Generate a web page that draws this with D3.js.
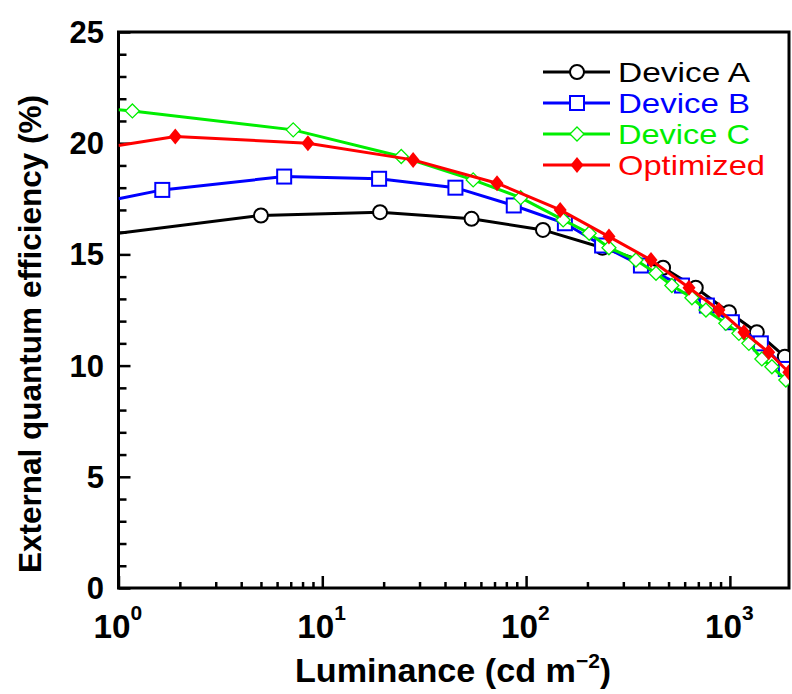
<!DOCTYPE html>
<html>
<head>
<meta charset="utf-8">
<script src="https://cdn.jsdelivr.net/npm/d3@7"></script>
<style>
  html, body { margin: 0; padding: 0; background: #fff; }
  svg { display: block; }
  text { font-family: "Liberation Sans", Arial, Helvetica, sans-serif; }
</style>
</head>
<body>
<svg id="chart" width="792" height="694"></svg>
<script>
// Luminance (cd m^-2) and EQE (%) for each device
const lumA = [1, 5.0, 19.2, 54, 121, 237, 470, 680, 990, 1356, 1860];
const eqeA = [15.95, 16.75, 16.9, 16.6, 16.1, 15.3, 14.4, 13.5, 12.4, 11.5, 10.4];

const lumB = [1, 1.64, 6.5, 19, 45, 87, 155, 236, 366, 582, 771, 1023, 1419, 1882];
const eqeB = [17.5, 17.9, 18.5, 18.4, 18.0, 17.2, 16.4, 15.4, 14.5, 13.6, 12.7, 11.95, 11.0, 9.85];

const lumC = [1, 1.17, 7.2, 24.4, 55, 94, 152, 204, 255, 346, 434, 519, 651, 763, 955, 1107, 1239, 1435, 1607, 1882];
const eqeC = [21.5, 21.45, 20.6, 19.4, 18.35, 17.55, 16.55, 15.95, 15.3, 14.75, 14.15, 13.6, 13.05, 12.5, 11.9, 11.45, 11.0, 10.3, 9.95, 9.35];

const lumO = [1, 1.9, 8.5, 27.9, 72, 147, 255, 410, 630, 883, 1172, 1550, 1945];
const eqeO = [19.9, 20.3, 20.0, 19.25, 18.2, 17.0, 15.8, 14.75, 13.5, 12.5, 11.5, 10.6, 9.7];

const seriesNames = ["Device A", "Device B", "Device C", "Optimized"];
const seriesColors = ["#000000", "#0000ff", "#00ee00", "#ff0000"];
const seriesMarkers = ["circle", "square", "diamondOpen", "diamondFilled"];
const legendWidths = [132, 132, 132, 147];

const yTickValues = [0, 5, 10, 15, 20, 25];
const xTickExponents = [0, 1, 2, 3];

const series = [
  { name: seriesNames[0], lum: lumA, eqe: eqeA },
  { name: seriesNames[1], lum: lumB, eqe: eqeB },
  { name: seriesNames[2], lum: lumC, eqe: eqeC },
  { name: seriesNames[3], lum: lumO, eqe: eqeO }
];

const plot = { left: 118.5, right: 789, top: 32, bottom: 588 };
const svg = d3.select("#chart");

const x = d3.scaleLog().domain([1, 1950]).range([plot.left, plot.right]);
const y = d3.scaleLinear().domain([0, 25]).range([plot.bottom, plot.top]);

// clip so the traces stop at the frame
svg.append("defs").append("clipPath").attr("id", "plotClip")
  .append("rect")
  .attr("x", plot.left).attr("y", plot.top)
  .attr("width", plot.right - plot.left).attr("height", plot.bottom - plot.top);

// axes with inward ticks
const yMinor = d3.range(0, 26, 1);
const xMinor = [];
for (let e = 0; e < 4; e++) for (let m = 1; m < 10; m++) { const v = m * Math.pow(10, e); if (v <= 1950) xMinor.push(v); }

const gy = svg.append("g").attr("transform", `translate(${plot.left},0)`);
gy.call(d3.axisRight(y).tickValues(yMinor).tickSize(8).tickFormat(""));
gy.call(g => g.selectAll(".tick line").attr("stroke", "#000").attr("stroke-width", 2.5)
  .attr("x2", d => d % 5 === 0 ? 12 : 8));
gy.select(".domain").remove();

const gx = svg.append("g").attr("transform", `translate(0,${plot.bottom})`);
gx.call(d3.axisTop(x).tickValues(xMinor).tickSize(6).tickFormat(""));
gx.call(g => g.selectAll(".tick line").attr("stroke", "#000").attr("stroke-width", 2.5)
  .attr("y2", d => Math.abs(Math.log10(d) - Math.round(Math.log10(d))) < 1e-9 ? -12 : -6));
gx.select(".domain").remove();

// frame
svg.append("rect")
  .attr("x", plot.left).attr("y", plot.top)
  .attr("width", plot.right - plot.left).attr("height", plot.bottom - plot.top)
  .attr("fill", "none").attr("stroke", "#000").attr("stroke-width", 3);

// y tick labels
svg.append("g").selectAll("text").data(yTickValues).join("text")
  .attr("x", 104).attr("y", d => y(d) + 11)
  .attr("text-anchor", "end")
  .attr("font-size", 31).attr("font-weight", "bold")
  .text(d => d);

// x tick labels as powers of ten
const xl = svg.append("g").selectAll("g").data(xTickExponents).join("g")
  .attr("transform", d => `translate(${x(Math.pow(10, d))},0)`);
xl.append("text")
  .attr("x", -25).attr("y", 638)
  .attr("font-size", 33).attr("font-weight", "bold")
  .attr("textLength", 37).attr("lengthAdjust", "spacingAndGlyphs")
  .text("10");
xl.append("text")
  .attr("x", 12).attr("y", 620)
  .attr("font-size", 21).attr("font-weight", "bold")
  .text(d => d);

// axis titles
const xt = svg.append("text")
  .attr("x", 295).attr("y", 682)
  .attr("font-size", 33).attr("font-weight", "bold");
xt.append("tspan").attr("textLength", 281).attr("lengthAdjust", "spacingAndGlyphs").text("Luminance (cd m");
xt.append("tspan").attr("dy", -14).attr("font-size", 21).text("\u22122");
xt.append("tspan").attr("dy", 14).text(")");

svg.append("text")
  .attr("transform", "translate(41,334) rotate(-90)")
  .attr("text-anchor", "middle")
  .attr("font-size", 32).attr("font-weight", "bold")
  .attr("textLength", 478).attr("lengthAdjust", "spacingAndGlyphs")
  .text("External quantum efficiency (%)");

// markers
function drawMarker(sel, kind, color) {
  if (kind === "circle") {
    sel.append("circle").attr("r", 7).attr("fill", "#fff").attr("stroke", color).attr("stroke-width", 2);
  } else if (kind === "square") {
    sel.append("rect").attr("x", -7).attr("y", -7).attr("width", 14).attr("height", 14)
      .attr("fill", "#fff").attr("stroke", color).attr("stroke-width", 2);
  } else if (kind === "diamondOpen") {
    sel.append("path").attr("d", "M0,-7L7,0L0,7L-7,0Z")
      .attr("fill", "#fff").attr("stroke", color).attr("stroke-width", 1.3);
  } else {
    sel.append("path").attr("d", "M0,-8L6.5,0L0,8L-6.5,0Z").attr("fill", color);
  }
}

const line = d3.line().x(d => x(d[0])).y(d => y(d[1]));
const traces = svg.append("g").attr("clip-path", "url(#plotClip)");

series.forEach((s, i) => {
  const pts = s.lum.map((l, k) => [l, s.eqe[k]]);
  const g = traces.append("g");
  g.append("path").datum(pts).attr("d", line)
    .attr("fill", "none").attr("stroke", seriesColors[i]).attr("stroke-width", 3);
  g.selectAll("g.m").data(pts.slice(1)).join("g").attr("class", "m")
    .attr("transform", d => `translate(${x(d[0])},${y(d[1])})`)
    .each(function () { drawMarker(d3.select(this), seriesMarkers[i], seriesColors[i]); });
});

// legend
const legend = svg.append("g");
seriesNames.forEach((name, i) => {
  const ly = 72 + i * 31;
  const g = legend.append("g");
  g.append("line").attr("x1", 543).attr("x2", 610).attr("y1", ly).attr("y2", ly)
    .attr("stroke", seriesColors[i]).attr("stroke-width", 3);
  drawMarker(g.append("g").attr("transform", `translate(577,${ly})`), seriesMarkers[i], seriesColors[i]);
  g.append("text").attr("x", 618).attr("y", ly + 10)
    .attr("font-size", 28).attr("fill", seriesColors[i])
    .attr("textLength", legendWidths[i]).attr("lengthAdjust", "spacingAndGlyphs")
    .text(name);
});
</script>
</body>
</html>
